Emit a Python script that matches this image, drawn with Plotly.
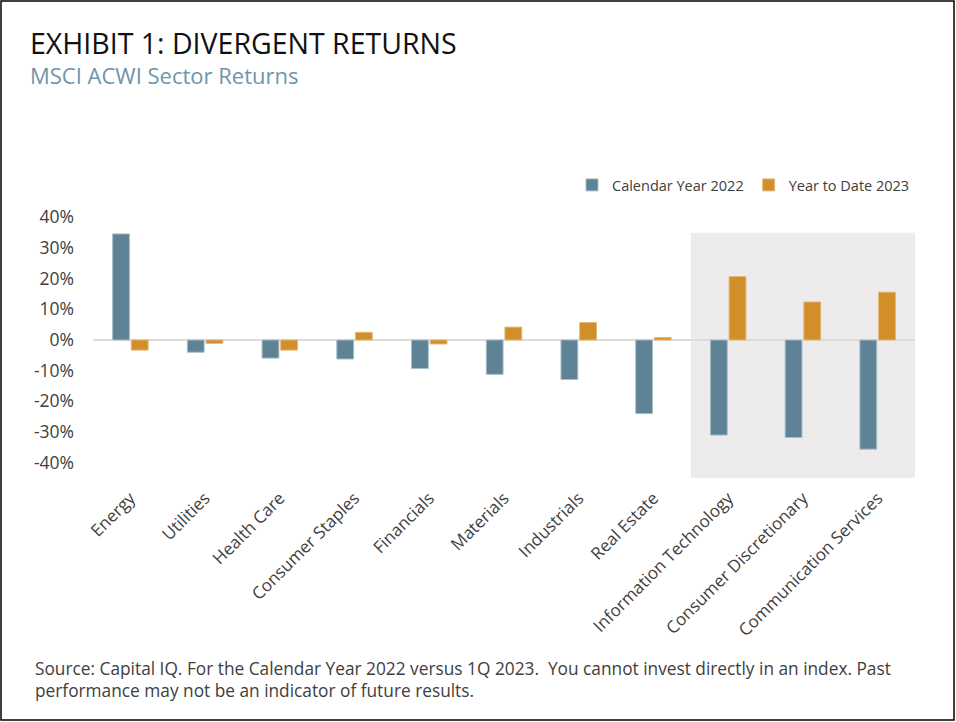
import plotly.graph_objects as go

categories = ["Energy", "Utilities", "Health Care", "Consumer Staples", "Financials",
              "Materials", "Industrials", "Real Estate", "Information Technology",
              "Consumer Discretionary", "Communication Services"]
cy2022 = [34.6, -4.0, -5.9, -6.2, -9.3, -11.2, -12.9, -24.0, -31.0, -31.8, -35.6]
ytd2023 = [-3.3, -1.1, -3.3, 2.5, -1.3, 4.2, 5.7, 0.8, 20.7, 12.4, 15.6]
series_names = ["Calendar Year 2022", "Year to Date 2023"]
tick_vals = [-40, -30, -20, -10, 0, 10, 20, 30, 40]
tick_text = ["-40%", "-30%", "-20%", "-10%", "0%", "10%", "20%", "30%", "40%"]

W, H = 956, 722
ml, mr, mt, mb = 93, 41, 202, 244
pw, ph = W - ml - mr, H - mt - mb

fig = go.Figure()
fig.add_trace(go.Bar(x=categories, y=cy2022, name=series_names[0],
                     marker=dict(color="#5E8396", line=dict(width=1, color="#A9BDC7"))))
fig.add_trace(go.Bar(x=categories, y=ytd2023, name=series_names[1],
                     marker=dict(color="#D18E29", line=dict(width=1, color="#E2B878"))))

# shaded highlight region
fig.add_shape(type="rect", xref="x", yref="y", x0=7.5, x1=10.5, y0=-45, y1=35,
              fillcolor="#EDEBEC", line=dict(width=0), layer="below")

def px_x(px):
    return (px - ml) / pw

def px_y(py):
    return (H - mb - py) / ph

# figure border
fig.add_shape(type="rect", xref="paper", yref="paper",
              x0=px_x(1), x1=px_x(954), y0=px_y(720), y1=px_y(1),
              line=dict(color="black", width=1.5), fillcolor="rgba(0,0,0,0)", layer="above")

font_family = "'Open Sans', 'Noto Sans', sans-serif"
fig.add_annotation(xref="paper", yref="paper", x=px_x(29), y=px_y(43), xanchor="left",
                   yanchor="middle", showarrow=False, text="EXHIBIT 1: DIVERGENT RETURNS",
                   font=dict(family=font_family, size=28.5, color="#111111"), borderpad=0)
fig.add_annotation(xref="paper", yref="paper", x=px_x(29), y=px_y(75), xanchor="left",
                   yanchor="middle", showarrow=False, text="MSCI ACWI Sector Returns",
                   font=dict(family=font_family, size=22, color="#6E95AA"), borderpad=0)
fig.add_annotation(xref="paper", yref="paper", x=px_x(33), y=px_y(679), xanchor="left",
                   yanchor="middle", showarrow=False, align="left",
                   text="Source: Capital IQ. For the Calendar Year 2022 versus 1Q 2023.  You cannot invest directly in an index. Past<br>performance may not be an indicator of future results.",
                   font=dict(family=font_family, size=17.3, color="#404040"))

fig.update_layout(
    width=W, height=H,
    margin=dict(l=ml, r=mr, t=mt, b=mb),
    paper_bgcolor="white", plot_bgcolor="white",
    barmode="group", bargap=0.5, bargroupgap=0.1,
    font=dict(family=font_family, color="#404040"),
    showlegend=True,
    legend=dict(orientation="h", x=1, xanchor="right", y=px_y(185), yanchor="middle",
                font=dict(size=14.5, color="#404040"), bgcolor="rgba(0,0,0,0)",
                itemwidth=30, traceorder="normal"),
    xaxis=dict(showgrid=False, showline=False, ticks="", tickangle=-45,
               tickfont=dict(size=17, color="#404040"), range=[-0.5, 10.5],
               ticklabelstandoff=6),
    yaxis=dict(range=[-45, 45], tickvals=tick_vals, ticktext=tick_text, showgrid=False,
               zeroline=True, zerolinecolor="#DCDCDC", zerolinewidth=2,
               tickfont=dict(size=17.5, color="#404040"), ticks="", showline=False,
               ticklabelstandoff=18),
)

fig.write_html("out.html", config={"displayModeBar": False},
               post_script="document.body.style.margin='0';")
